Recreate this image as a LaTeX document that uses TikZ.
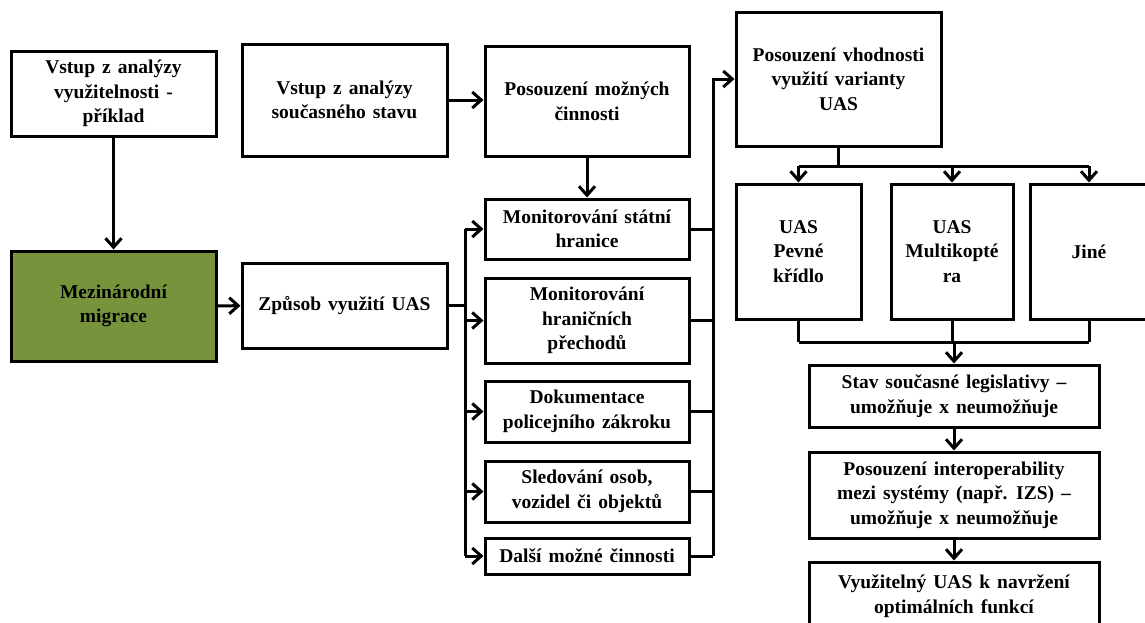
\documentclass[tikz,border=0pt]{standalone}
\usepackage{fontspec}
\setmainfont{Liberation Serif}
\usetikzlibrary{arrows.meta}
\definecolor{migracegreen}{HTML}{77933C}
\definecolor{boxblack}{HTML}{000000}
\newcommand{\diagramtext}{\fontsize{19.5}{24.5}\selectfont\bfseries\spaceskip=7pt plus 2pt}

\begin{document}
\begin{tikzpicture}[x=1pt,y=-1pt,font=\diagramtext,
  flowbox/.style={draw=boxblack,fill=white,line width=3pt,align=center,inner sep=0pt,minimum width=205pt},
  flowline/.style={line width=3pt,color=boxblack},
  flowarrow/.style={flowline,-{Straight Barb[length=9pt,width=16pt]}}]
\useasboundingbox (0,0) rectangle (1145,622);
\clip (0,0) rectangle (1145,622);

\node[flowbox,minimum height=85pt] (vyuz) at (113.5,93.5) {Vstup z analýzy\\využitelnosti -\\příklad};
\node[flowbox,minimum height=112pt] (soucas) at (344.5,100) {Vstup z analýzy\\současného stavu};
\node[flowbox,minimum width=204pt,minimum height=110pt] (mozne) at (587,101) {Posouzení možných\\činnosti};
\node[flowbox,minimum height=134pt] (vhodnost) at (838.5,79) {Posouzení vhodnosti\\využití varianty\\UAS};

\node[flowbox,fill=migracegreen,minimum height=110pt] (migrace) at (113.5,306) {Mezinárodní\\migrace};
\node[flowbox,minimum height=85pt] (zpusob) at (344.5,305.5) {Způsob využití UAS};

\node[flowbox,minimum width=204pt,minimum height=60pt] (statni) at (587,229) {Monitorování státní\\hranice};
\node[flowbox,minimum width=204pt,minimum height=85pt] (hranicni) at (587,320.5) {Monitorování\\hraničních\\přechodů};
\node[flowbox,minimum width=204pt,minimum height=61pt] (dokum) at (587,411.5) {Dokumentace\\policejního zákroku};
\node[flowbox,minimum width=204pt,minimum height=61pt] (sledov) at (587,491.5) {Sledování osob,\\vozidel či objektů};
\node[flowbox,minimum width=204pt,minimum height=36pt] (dalsi) at (587,556) {Další možné činnosti};

\node[flowbox,minimum width=125pt,minimum height=135pt] (pevne) at (798.5,251.5) {UAS\\Pevné\\křídlo};
\node[flowbox,minimum width=122pt,minimum height=135pt] (multi) at (952,251.5) {UAS\\Multikopté\\ra};
\node[flowbox,minimum width=118pt,minimum height=135pt] (jine) at (1089,251.5) {Jiné};

\node[flowbox,minimum width=290pt,minimum height=62pt] (stav) at (954,396) {Stav současné legislativy –\\umožňuje x neumožňuje};
\node[flowbox,minimum width=290pt,minimum height=86pt] (interop) at (954,495) {Posouzení interoperability\\mezi systémy (např. IZS) –\\umožňuje x neumožňuje};
\node[flowbox,minimum width=290pt,minimum height=68pt] (optim) at (954,596) {Využitelný UAS k navržení\\optimálních funkcí};

\coordinate (lbus) at (465,305.5);
\coordinate (rbus) at (713,79);
\coordinate (tbus) at (838.5,166);
\coordinate (bbus) at (954,342);

\draw[flowarrow] (vyuz) -- (migrace);
\draw[flowarrow] (migrace) -- (zpusob);
\draw[flowarrow] (soucas.east) -- (soucas.east -| mozne.west);
\draw[flowarrow] (mozne) -- (statni);

\draw[flowline] (zpusob.east) -- (lbus);
\draw[flowline] (lbus |- statni.west) -- (lbus |- dalsi.west);
\foreach \b in {statni,hranicni,dokum,sledov,dalsi}
  \draw[flowarrow] (lbus |- \b.west) -- (\b.west);

\foreach \b in {statni,hranicni,dokum,sledov,dalsi}
  \draw[flowline] (\b.east) -- (rbus |- \b.east);
\draw[flowarrow] (rbus |- dalsi.east) -- (rbus) -- (vhodnost.west);

\draw[flowline] (vhodnost.south) -- (tbus);
\draw[flowline] (tbus -| pevne.north) -- (tbus -| jine.north);
\foreach \b in {pevne,multi,jine}
  \draw[flowarrow] (tbus -| \b.north) -- (\b.north);

\foreach \b in {pevne,multi,jine}
  \draw[flowline] (\b.south) -- (bbus -| \b.south);
\draw[flowline] (bbus -| pevne.south) -- (bbus -| jine.south);
\draw[flowarrow] (bbus) -- (stav.north);

\draw[flowarrow] (stav) -- (interop);
\draw[flowarrow] (interop) -- (optim);
\end{tikzpicture}
\end{document}
